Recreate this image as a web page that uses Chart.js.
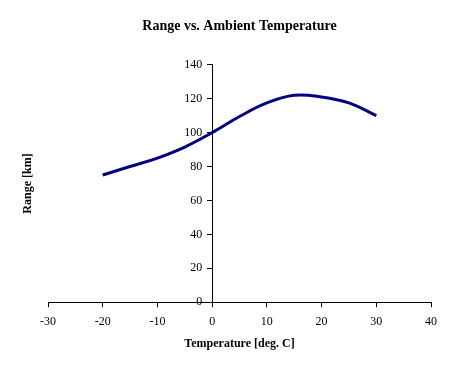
<!DOCTYPE html>
<html>
<head>
<meta charset="utf-8">
<script src="https://cdn.jsdelivr.net/npm/chart.js@4/dist/chart.umd.min.js"></script>
<style>
  html, body { margin: 0; padding: 0; background: #fff; }
  #wrap { width: 457px; height: 370px; }
</style>
</head>
<body>
<div id="wrap"><canvas id="myChart" width="457" height="370"></canvas></div>
<script>
// temperature (deg C) and range (km)
const temps = [-20, -15, -10, -5, 0, 5, 10, 15, 20, 25, 30];
const ranges = [75, 80, 85, 91.5, 100, 109.5, 117.5, 122, 121, 117.5, 110];

const xTicks = [-30, -20, -10, 0, 10, 20, 30, 40];
const yTicks = [0, 20, 40, 60, 80, 100, 120, 140];

const serif = "'Liberation Serif', 'Times New Roman', serif";

// y axis crosses at x = 0; chart.js puts its labels right on the line there,
// so the labels and the axis title get drawn here instead
const yLabels = {
    id: "yLabels",
    afterDraw(chart) {
        const c = chart.ctx;
        const xs = chart.scales.x;
        const ys = chart.scales.y;
        const ax = xs.getPixelForValue(0);
        c.save();
        c.fillStyle = "#000";
        c.font = "12px " + serif;
        c.textAlign = "right";
        c.textBaseline = "middle";
        yTicks.forEach((v) => c.fillText(String(v), ax - 10, ys.getPixelForValue(v)));

        c.font = "bold 12px " + serif;
        c.textAlign = "center";
        c.translate(28, (chart.chartArea.top + chart.chartArea.bottom) / 2);
        c.rotate(-Math.PI / 2);
        c.fillText("Range [km]", 0, 0);
        c.restore();
    },
};

const ctx = document.getElementById("myChart");
new Chart(ctx, {
    type: "line",
    data: {
        datasets: [
            {
                data: temps.map((t, i) => ({ x: t, y: ranges[i] })),
                borderColor: "#000080",
                borderWidth: 3,
                pointRadius: 0,
                tension: 0.4,
                fill: false,
            },
        ],
    },
    options: {
        responsive: false,
        animation: false,
        layout: { padding: { left: 48, right: 26, top: 0, bottom: 19 } },
        plugins: {
            legend: { display: false },
            tooltip: { enabled: false },
            title: {
                display: true,
                text: "Range vs. Ambient Temperature",
                color: "#000",
                font: { family: serif, size: 14, weight: "bold" },
                padding: { top: 18, bottom: 30 },
            },
        },
        scales: {
            x: {
                type: "linear",
                min: -30,
                max: 40,
                afterBuildTicks: (s) => { s.ticks = xTicks.map((v) => ({ value: v })); },
                grid: { drawOnChartArea: false, drawTicks: true, tickLength: 5, color: "#000" },
                border: { display: true, color: "#000", width: 1 },
                ticks: { color: "#000", padding: 7, font: { family: serif, size: 12 }, maxRotation: 0 },
                title: {
                    display: true,
                    text: "Temperature [deg. C]",
                    color: "#000",
                    font: { family: serif, size: 12, weight: "bold" },
                    padding: { top: 1, bottom: 0 },
                },
            },
            y: {
                type: "linear",
                position: { x: 0 },
                min: 0,
                max: 140,
                afterBuildTicks: (s) => { s.ticks = yTicks.map((v) => ({ value: v })); },
                grid: { drawOnChartArea: false, drawTicks: true, tickLength: 5, color: "#000" },
                border: { display: true, color: "#000", width: 1 },
                ticks: { display: false },
            },
        },
    },
    plugins: [yLabels],
});
</script>
</body>
</html>
